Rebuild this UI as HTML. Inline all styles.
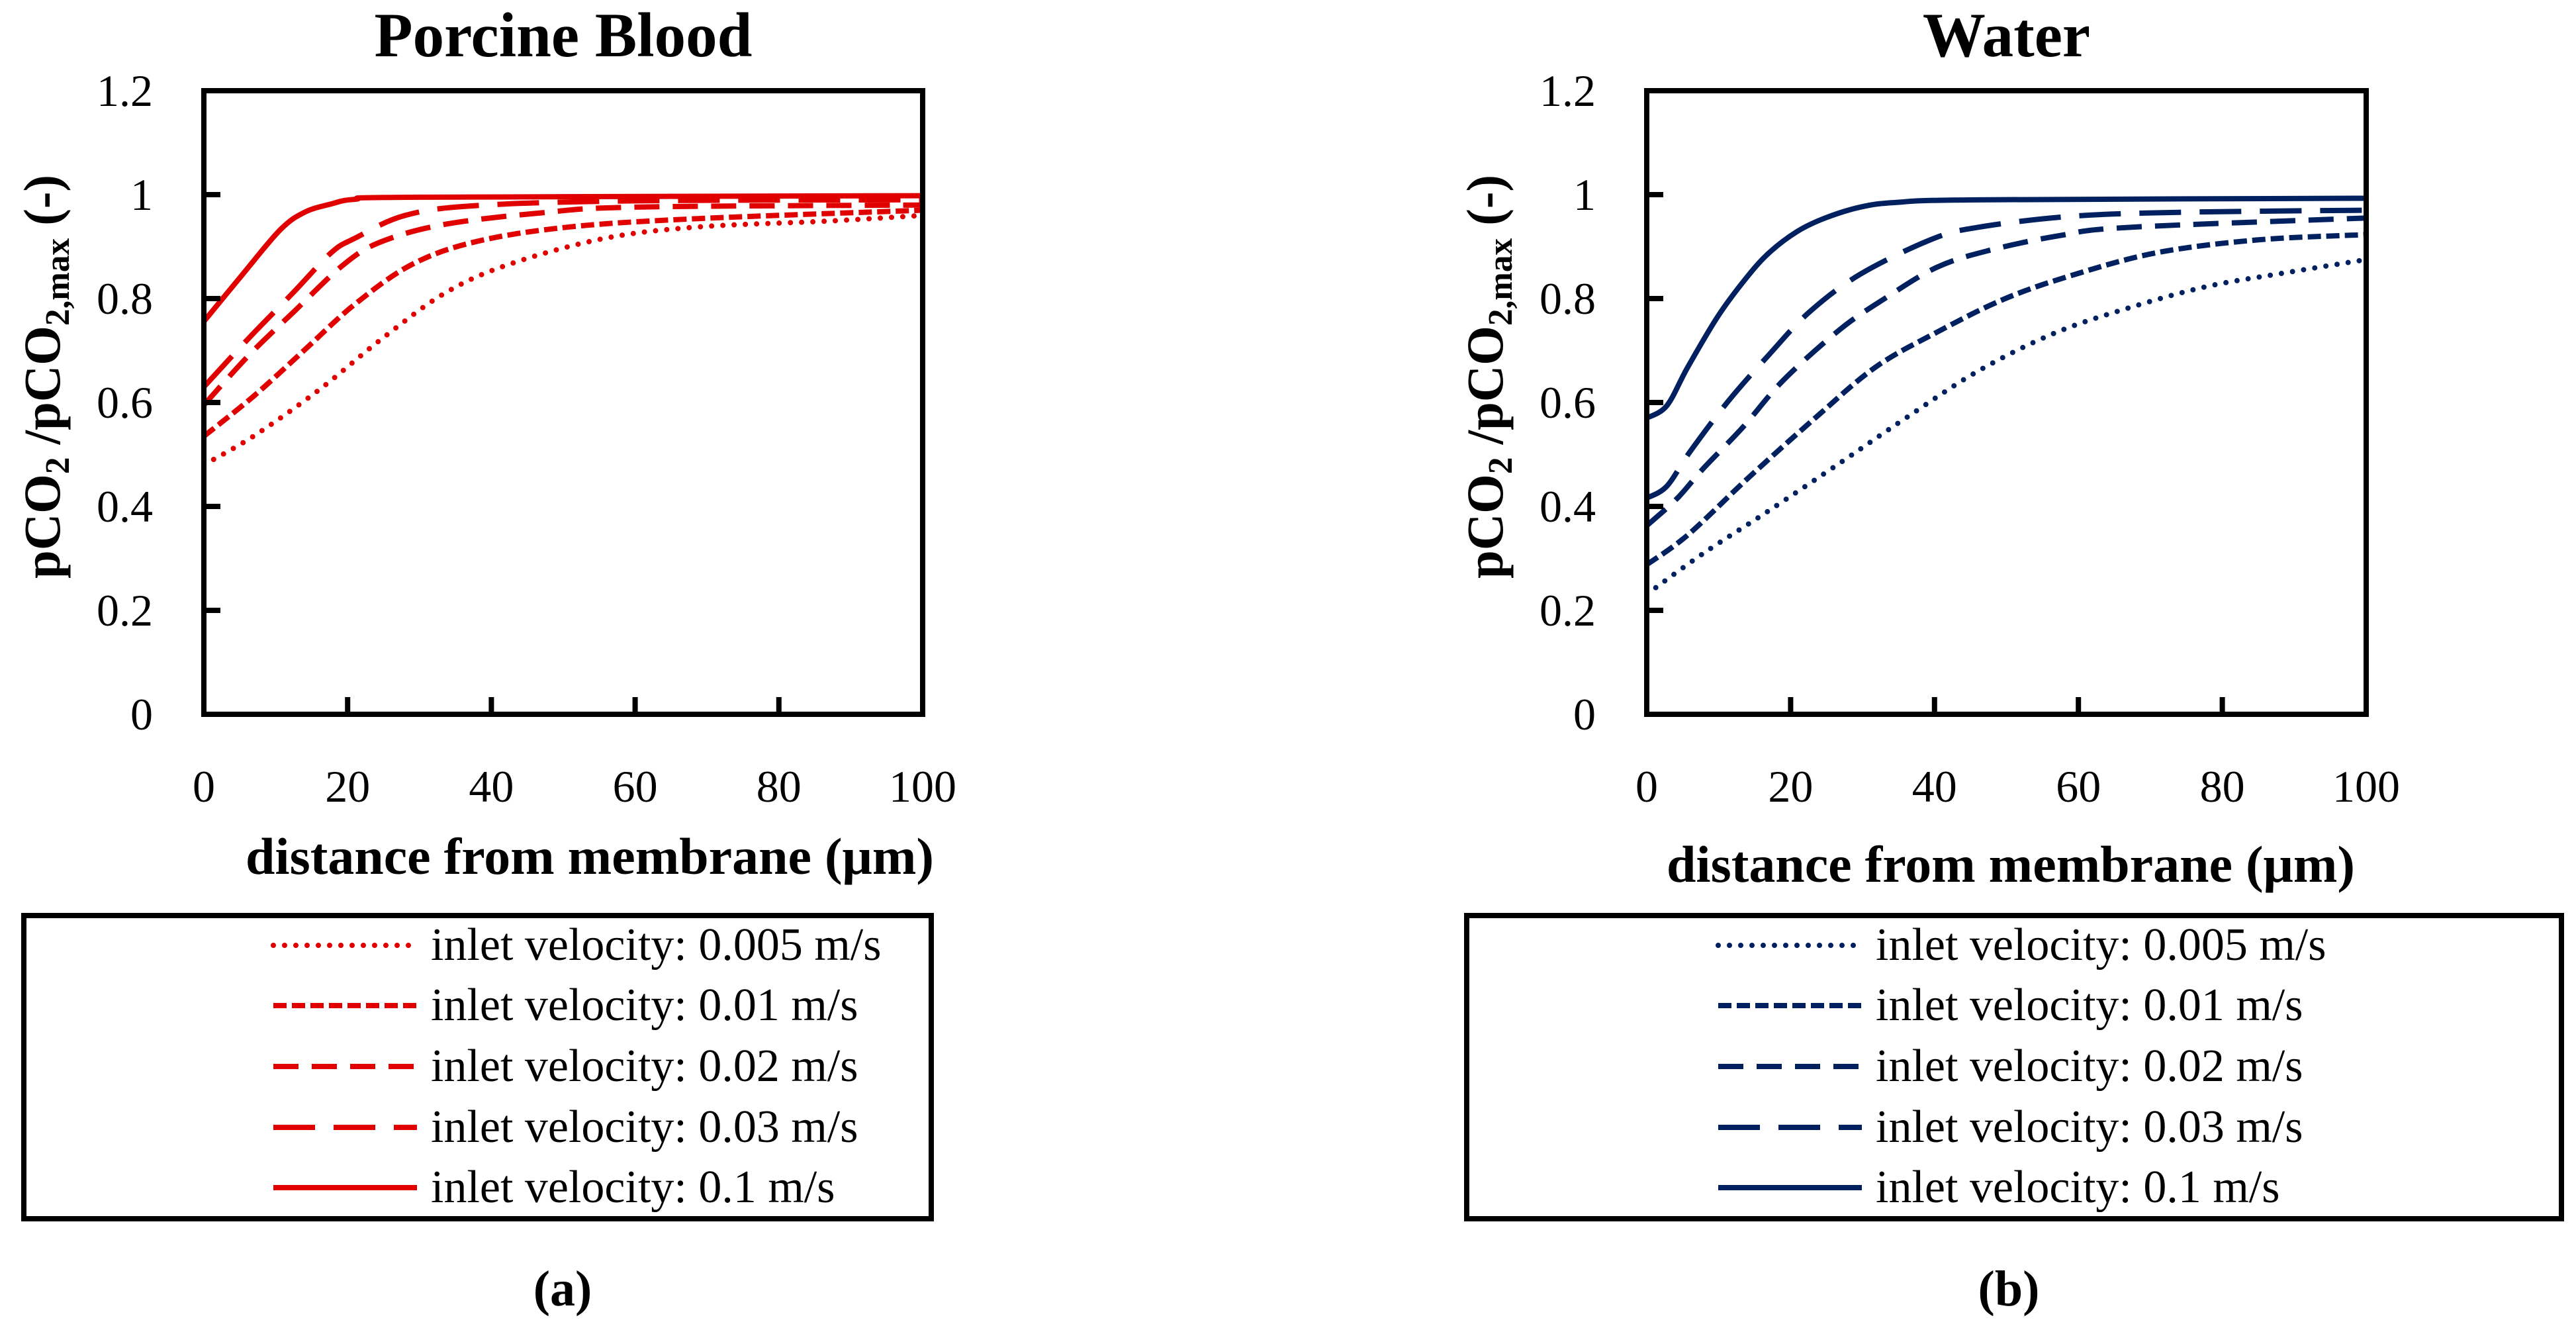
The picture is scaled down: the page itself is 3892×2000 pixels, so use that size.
<!DOCTYPE html>
<html><head><meta charset="utf-8"><style>
html,body{margin:0;padding:0;background:#fff;}
svg{display:block;font-family:"Liberation Serif",serif;}
</style></head><body>
<svg id="fig" width="3892" height="2000" viewBox="0 0 3892 2000" xmlns="http://www.w3.org/2000/svg"></svg>
<script>
// ---- data ----
const xTicks = [0, 20, 40, 60, 80, 100];
const yTicks = [0, 0.2, 0.4, 0.6, 0.8, 1, 1.2];
const yTickLabels = ["0", "0.2", "0.4", "0.6", "0.8", "1", "1.2"];
const seriesNames = ["inlet velocity: 0.005 m/s","inlet velocity: 0.01 m/s","inlet velocity: 0.02 m/s","inlet velocity: 0.03 m/s","inlet velocity: 0.1 m/s"];

const bloodX005 = [0, 7, 16, 24.8, 33.6, 42.5, 55.8, 69, 86.7, 100];
const bloodY005 = [0.48, 0.536, 0.624, 0.723, 0.811, 0.866, 0.916, 0.938, 0.949, 0.96];
const bloodX01 = [0, 7, 14, 21, 29, 38, 51, 69, 100];
const bloodY01 = [0.535, 0.613, 0.701, 0.789, 0.866, 0.91, 0.938, 0.954, 0.97];
const bloodX02 = [0, 6.2, 12.4, 19.5, 24.8, 33.6, 47, 60, 100];
const bloodY02 = [0.595, 0.69, 0.773, 0.866, 0.91, 0.943, 0.965, 0.976, 0.98];
const bloodX03 = [0, 6.2, 12.4, 17.7, 21, 28, 38, 60, 100];
const bloodY03 = [0.63, 0.723, 0.811, 0.888, 0.916, 0.96, 0.979, 0.988, 0.99];
const bloodX1 = [0, 5.3, 10.6, 14, 17.7, 21, 30, 100];
const bloodY1 = [0.756, 0.845, 0.932, 0.966, 0.982, 0.991, 0.995, 0.998];

const waterX005 = [0, 7.8, 17, 26.9, 36, 46, 56.6, 67, 77.8, 88.5, 100];
const waterY005 = [0.231, 0.309, 0.392, 0.484, 0.57, 0.66, 0.733, 0.782, 0.823, 0.849, 0.875];
const waterX01 = [0, 5.7, 14.2, 23.4, 31.8, 40.3, 49.5, 58.7, 70.8, 85, 100];
const waterY01 = [0.288, 0.345, 0.456, 0.57, 0.668, 0.735, 0.798, 0.843, 0.888, 0.913, 0.923];
const waterX02 = [0, 4.2, 7.8, 13.4, 19, 26.9, 33.3, 40.3, 47.4, 57.3, 67, 100];
const waterY02 = [0.363, 0.415, 0.472, 0.553, 0.643, 0.741, 0.802, 0.86, 0.892, 0.921, 0.937, 0.955];
const waterX03 = [0, 2.8, 6, 11.3, 17, 22.6, 29.7, 39.6, 46, 58.7, 74, 100];
const waterY03 = [0.416, 0.439, 0.505, 0.602, 0.692, 0.774, 0.847, 0.914, 0.937, 0.958, 0.966, 0.97];
const waterX1 = [0, 2.8, 5.7, 9.9, 13.8, 17, 20.9, 24.8, 29.7, 34.7, 46, 100];
const waterY1 = [0.57, 0.594, 0.668, 0.766, 0.839, 0.888, 0.929, 0.955, 0.976, 0.985, 0.99, 0.993];

const NS = "http://www.w3.org/2000/svg";
const svg = document.getElementById('fig');
const dashes = ["0 17", "20 8", "38 20", "63 28", "none"];

function mk(tag, attrs, parent) {
  const e = document.createElementNS(NS, tag);
  for (const k in attrs) e.setAttribute(k, attrs[k]);
  (parent || svg).appendChild(e);
  return e;
}
function smooth(pts) {
  let d = "M" + pts[0][0] + "," + pts[0][1];
  for (let i = 0; i < pts.length - 1; i++) {
    const p0 = pts[Math.max(0, i - 1)], p1 = pts[i], p2 = pts[i + 1], p3 = pts[Math.min(pts.length - 1, i + 2)];
    const c1x = p1[0] + (p2[0] - p0[0]) / 6, c1y = p1[1] + (p2[1] - p0[1]) / 6;
    const c2x = p2[0] - (p3[0] - p1[0]) / 6, c2y = p2[1] - (p3[1] - p1[1]) / 6;
    d += " C" + c1x + "," + c1y + " " + c2x + "," + c2y + " " + p2[0] + "," + p2[1];
  }
  return d;
}

function panel(cfg) {
  const L = cfg.left, R = cfg.right, T = 137, B = 1079;
  const sx = v => L + (v / 100) * (R - L);
  const sy = v => B - (v / 1.2) * (B - T);
  const g = mk('g', {});
  
  

  const title = mk('text', {x: (L + R) / 2, y: 85, 'text-anchor': 'middle', 'font-size': 95, 'font-weight': 'bold'}, g);
  title.textContent = cfg.title;
  
  

  cfg.xs.forEach((xs, i) => {
    const pts = xs.map((x, j) => [sx(x), sy(cfg.ys[i][j])]);
    const p = mk('path', {d: smooth(pts), fill: 'none', stroke: cfg.color, 'stroke-width': 8,
      'stroke-dasharray': dashes[i], 'stroke-linecap': i === 0 ? 'round' : 'butt'}, g);
    
    
  });

  const box = mk('rect', {x: L, y: T, width: R - L, height: B - T, fill: 'none', stroke: '#000', 'stroke-width': 8}, g);
  
  

  yTicks.forEach((v, i) => {
    const y = sy(v);
    const t = mk('line', {x1: L, x2: L + 25, y1: y, y2: y, stroke: '#000', 'stroke-width': 8}, g);
    
    
    const lb = mk('text', {x: L - 77, y: y + 23, 'text-anchor': 'end', 'font-size': 68}, g);
    lb.textContent = yTickLabels[i];
    
    
  });
  xTicks.forEach(v => {
    const x = sx(v);
    const t = mk('line', {x1: x, x2: x, y1: B, y2: B - 26, stroke: '#000', 'stroke-width': 8}, g);
    
    
    const lb = mk('text', {x: x, y: 1211, 'text-anchor': 'middle', 'font-size': 68}, g);
    lb.textContent = String(v);
    
    
  });

  const xt = mk('text', {x: cfg.xTitleX, y: cfg.xTitleY, 'text-anchor': 'middle', 'font-size': 78, 'font-weight': 'bold', textLength: 1040, lengthAdjust: 'spacingAndGlyphs'}, g);
  xt.textContent = 'distance from membrane (μm)';
  
  

  const yt = mk('text', {transform: 'translate(' + (L - 218) + ',569) rotate(-90)', 'text-anchor': 'middle', 'font-size': 78, 'font-weight': 'bold', textLength: 610, lengthAdjust: 'spacingAndGlyphs'}, g);
  yt.innerHTML = 'pCO<tspan font-size="52" dy="14">2</tspan><tspan dy="-14"> /pCO</tspan><tspan font-size="52" dy="14">2,max</tspan><tspan dy="-14"> (-)</tspan>';
  
  

  const lg = mk('g', {}, g);
  
  
  const lb = mk('rect', {x: cfg.legL, y: 1383, width: cfg.legR - cfg.legL, height: 458, fill: 'none', stroke: '#000', 'stroke-width': 8}, lg);
  
  
  const rows = [1428, 1519, 1611, 1703, 1794];
  seriesNames.forEach((n, i) => {
    const ln = mk('line', {x1: cfg.lineX1, x2: cfg.lineX2, y1: rows[i], y2: rows[i], stroke: cfg.color, 'stroke-width': 8,
      'stroke-dasharray': dashes[i], 'stroke-linecap': i === 0 ? 'round' : 'butt'}, lg);
    
    
    const tx = mk('text', {x: cfg.textX, y: rows[i] + 22, 'font-size': 70}, lg);
    tx.textContent = n;
    
    
  });

  const cap = mk('text', {x: cfg.capX, y: 1972, 'text-anchor': 'middle', 'font-size': 76, 'font-weight': 'bold'}, g);
  cap.textContent = cfg.caption;
  
  
}

panel({name: 'blood', title: 'Porcine Blood', left: 308, right: 1394, color: '#e00000',
  xs: [bloodX005, bloodX01, bloodX02, bloodX03, bloodX1], ys: [bloodY005, bloodY01, bloodY02, bloodY03, bloodY1],
  xTitleX: 891, xTitleY: 1320, legL: 36, legR: 1407, lineX1: 413, lineX2: 630, textX: 651, capX: 850, caption: '(a)'});
panel({name: 'water', title: 'Water', left: 2488, right: 3575, color: '#00205f',
  xs: [waterX005, waterX01, waterX02, waterX03, waterX1], ys: [waterY005, waterY01, waterY02, waterY03, waterY1],
  xTitleX: 3038, xTitleY: 1332, legL: 2216, legR: 3870, lineX1: 2596, lineX2: 2813, textX: 2834, capX: 3035, caption: '(b)'});
</script>
</body></html>
